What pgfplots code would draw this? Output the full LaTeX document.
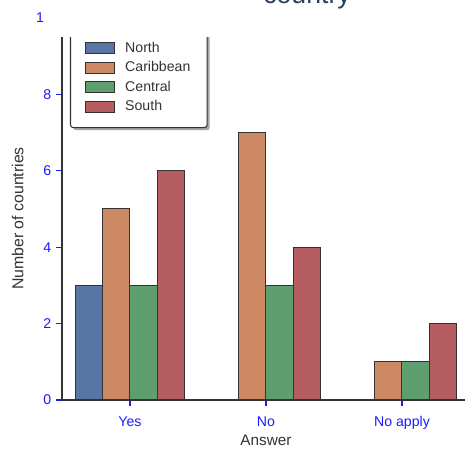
\documentclass[border=0pt]{standalone}
\usepackage{fontspec}
\setmainfont{Liberation Sans}
\usepackage{pgfplots}
\pgfplotsset{compat=1.18}
\usetikzlibrary{shadows}
\makeatletter
\tikzset{nopre/.code={\let\tikz@preactions\pgfutil@empty}}
\makeatother
\definecolor{cNorth}{HTML}{5975A4}
\definecolor{cCarib}{HTML}{CC8963}
\definecolor{cCentral}{HTML}{5F9E6E}
\definecolor{cSouth}{HTML}{B55D60}
\definecolor{edge}{HTML}{333333}
\definecolor{spine}{HTML}{333333}
\definecolor{tickblue}{HTML}{1A1AFF}
\definecolor{labelgrey}{HTML}{333333}
\definecolor{titlecol}{HTML}{2A3F5F}
\begin{document}
\begin{tikzpicture}
\begin{axis}[
  at={(0,0)}, anchor=south west,
  scale only axis, width=306pt, height=272.25pt,
  xmin=-0.5, xmax=2.5, ymin=0, ymax=9.5,
  axis x line*=bottom, axis y line*=left,
  axis line style={-, draw=spine, line width=0.95pt},
  xtick={0,1,2}, xticklabels={Yes,No,No apply},
  ytick={0,2,4,6,8},
  tick align=outside, major tick length=4.5pt,
  tick style={draw=tickblue, line width=0.9pt},
  ticklabel style={text=tickblue, font=\fontsize{10.6}{12}\selectfont},
  xticklabel style={yshift=-4.5pt},
  /pgf/number format/assume math mode=true,
  xlabel={Answer}, ylabel={Number of countries},
  xlabel style={text=labelgrey, font=\fontsize{11.5}{13}\selectfont, yshift=3pt},
  ylabel style={text=labelgrey, font=\fontsize{11.9}{13}\selectfont, yshift=8pt},
  legend cell align=left,
  legend image code/.code={\draw[#1, nopre, sharp corners] (0pt,-4.1pt) rectangle (21.75pt,4.1pt);},
  legend style={at={(0.0196,0.749)}, anchor=south west, draw=edge, line width=0.8pt,
    rounded corners=2pt, fill=white,
    drop shadow={shadow xshift=2pt, shadow yshift=-2pt, fill=black!50, opacity=0.7},
    font=\fontsize{10.6}{12}\selectfont, text=labelgrey,
    /tikz/every odd column/.append style={column sep=6pt},
    inner xsep=10.5pt, inner ysep=9pt, /tikz/row sep=1.5pt},
]
\addplot[ybar, bar width=0.2, bar shift=-0.3, fill=cNorth, draw=edge, line width=0.75pt] coordinates {(0,3)};
\addlegendentry{North}
\addplot[ybar, bar width=0.2, bar shift=-0.1, fill=cCarib, draw=edge, line width=0.75pt] coordinates {(0,5) (1,7) (2,1)};
\addlegendentry{Caribbean}
\addplot[ybar, bar width=0.2, bar shift=0.1, fill=cCentral, draw=edge, line width=0.75pt] coordinates {(0,3) (1,3) (2,1)};
\addlegendentry{Central}
\addplot[ybar, bar width=0.2, bar shift=0.3, fill=cSouth, draw=edge, line width=0.75pt] coordinates {(0,6) (1,4) (2,2)};
\addlegendentry{South}
\end{axis}
\fill[white] (-13.5pt,272.25pt) rectangle (310pt,310pt);
\node[text=tickblue, font=\fontsize{10.6}{12}\selectfont] at (-16.5pt,286.5pt) {1};
\node[text=titlecol, anchor=base, font=\fontsize{20}{24}\selectfont] at (183.75pt,297pt) {country};
\pgfresetboundingbox
\useasboundingbox (-46.5pt,-36.75pt) rectangle (302.25pt,300pt);
\end{tikzpicture}
\end{document}
